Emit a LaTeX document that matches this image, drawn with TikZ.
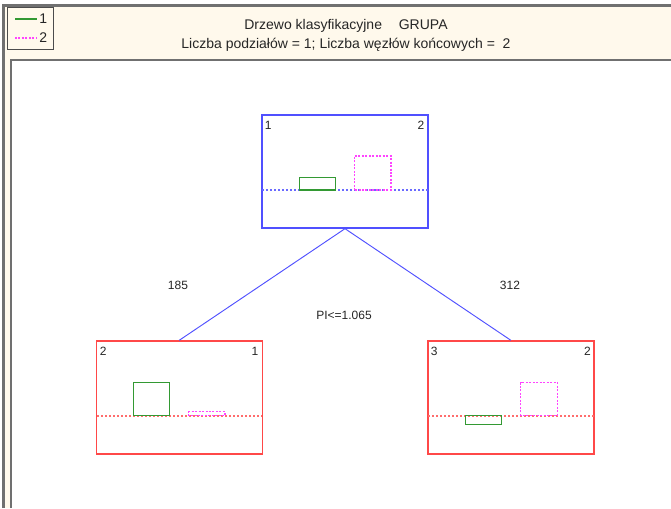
\documentclass[tikz,border=0pt]{standalone}
\usepackage{fontspec}
\setmainfont{Liberation Sans}
\begin{document}
\begin{tikzpicture}[x=0.75pt,y=-0.75pt,
  font=\fontsize{9}{10}\selectfont,
  txt/.style={text=black!85, inner sep=0pt},
  ttl/.style={txt, font=\fontsize{10.5}{12}\selectfont},
  treenode/.style={draw, line width=1pt, minimum width=124.5pt, minimum height=84.75pt, inner sep=0pt},
  bluenode/.style={treenode, draw=tblue},
  rednode/.style={treenode, draw=tred},
  dotline/.style={line width=1.2pt, dash pattern=on 1.5pt off 1.5pt},
  grbar/.style={draw=tgreen, line width=0.8pt},
  pkbar/.style={draw=tpink, line width=0.8pt, dash pattern=on 1.5pt off 1.1pt},
  edge/.style={draw=tblue, line width=0.7pt}]
\definecolor{cream}{HTML}{FFF9EC}
\definecolor{frame}{HTML}{707070}
\definecolor{tblue}{HTML}{5050FF}
\definecolor{tred}{HTML}{FF4848}
\definecolor{tgreen}{HTML}{339933}
\definecolor{tpink}{HTML}{FF44FF}
\useasboundingbox (0,0) rectangle (671,508);
\fill[white] (0,0) rectangle (671,508);
% outer frame
\fill[cream] (3,5) rectangle (671,508);
\draw[frame, line width=1.8pt] (3.5,508) -- (3.5,5.5) -- (671,5.5);
% plot area
\fill[white] (11,59) rectangle (671,508);
\draw[frame, line width=1.5pt] (11,508) -- (11,59.5) -- (671,59.5);
% legend
\node[draw=black!70, line width=0.7pt, fill=cream, minimum width=34pt, minimum height=31pt, inner sep=0pt] (legend) at (30.5,28.5) {};
\coordinate (lg1a) at (15,19); \coordinate (lg1b) at (37,19);
\coordinate (lg2a) at (15,38); \coordinate (lg2b) at (37,38);
\draw[grbar] (lg1a) -- (lg1b);
\draw[pkbar] (lg2a) -- (lg2b);
\node[txt, anchor=west, font=\fontsize{10.5}{12}\selectfont] (lgt1) at (39,19) {1};
\node[txt, anchor=west, font=\fontsize{10.5}{12}\selectfont] (lgt2) at (39,38) {2};
% title
\node[ttl] (title1) at (346,26) {Drzewo klasyfikacyjne\hspace{1.2em}GRUPA};
\node[ttl] (title2) at (346,45) {Liczba podziałów = 1; Liczba węzłów końcowych = \ 2};
% tree nodes
\node[bluenode] (root) at (345,171.5) {};
\node[rednode] (left) at (179.2,397.5) {};
\node[rednode] (right) at (510.9,397.5) {};
% connectors
\draw[edge] (root.south) -- (left.north);
\draw[edge] (root.south) -- (right.north);
\node[txt] (l185) at (178,285) {185};
\node[txt] (l312) at (510,285) {312};
\node[txt] (split) at (344,315) {PI<=1.065};
% root contents
\node[txt, anchor=north west] (r1) at (264.5,121) {1};
\node[txt, anchor=north east] (r2) at (424.5,121) {2};
\draw[dotline, draw=tblue!85] (262,190) -- (428,190);
\draw[grbar] (299.3,190) rectangle (335.7,177.7);
\draw[pkbar] (354.3,190) rectangle (391,156);
% left contents
\node[txt, anchor=north west] (a1) at (99.5,347) {2};
\node[txt, anchor=north east] (a2) at (258.5,347) {1};
\draw[dotline, draw=tred!80] (97,415.7) -- (261.5,415.7);
\draw[grbar] (133.3,415.7) rectangle (169.3,382.7);
\draw[pkbar] (188.7,415.7) rectangle (225,411.7);
% right contents
\node[txt, anchor=north west] (b1) at (430.5,347) {3};
\node[txt, anchor=north east] (b2) at (591,347) {2};
\draw[dotline, draw=tred!80] (428,415.7) -- (594,415.7);
\draw[grbar] (465.3,415.7) rectangle (501.7,424.3);
\draw[pkbar] (520.7,415.7) rectangle (557.3,382.7);
\end{tikzpicture}
\end{document}
